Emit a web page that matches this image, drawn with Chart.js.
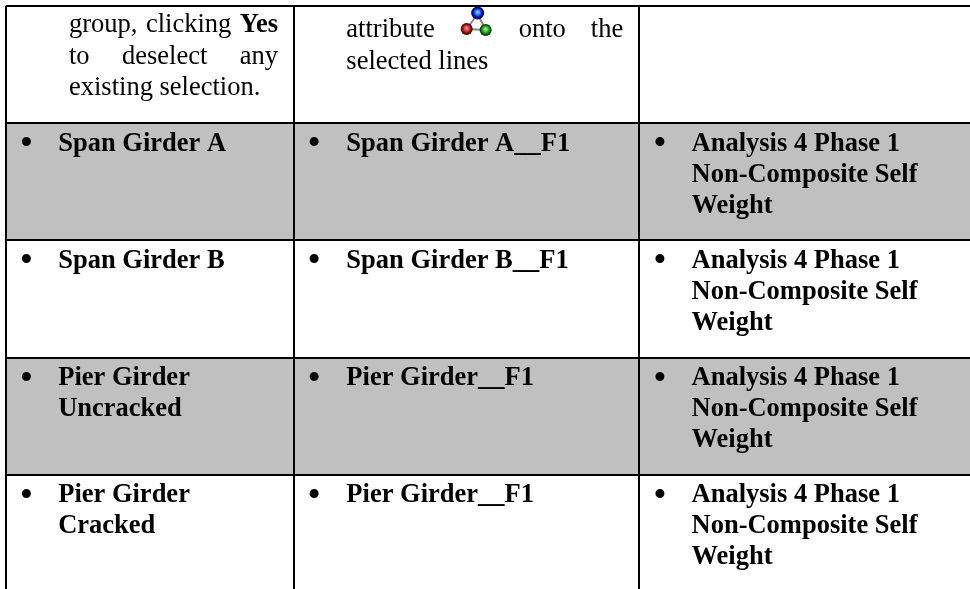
<!DOCTYPE html>
<html>
<head>
<meta charset="utf-8">
<style>
html, body { margin: 0; padding: 0; background: #fff; overflow: hidden; }
canvas { display: block; }
</style>
<script src="https://cdn.jsdelivr.net/npm/chart.js@4/dist/chart.umd.min.js"></script>
</head>
<body>
<canvas id="tableChart" width="970" height="592"></canvas>
<script>
// row labels, one per band (last row runs off the page)
var rows = ['Selection', 'Span Girder A', 'Span Girder B', 'Pier Girder Uncracked', 'Pier Girder Cracked'];
// 964 = shaded right across, 0 = no shading
var shading = [0, 964, 0, 964, 0];
var columnEdges = [0, 288, 633];

var colOne = [
    ['group, clicking *Yes', 'to deselect any', 'existing selection.'],
    ['Span Girder A'],
    ['Span Girder B'],
    ['Pier Girder', 'Uncracked'],
    ['Pier Girder', 'Cracked']
];
var colTwo = [
    ['attribute @ onto the', 'selected lines'],
    ['Span Girder A__F1'],
    ['Span Girder B__F1'],
    ['Pier Girder__F1'],
    ['Pier Girder__F1']
];
var weightLines = ['Analysis 4 Phase 1', 'Non-Composite Self', 'Weight'];
var colThree = [[], weightLines, weightLines, weightLines, weightLines];

var FONT = '"Liberation Serif", "Times New Roman", serif';
var SIZE = 26.5;
var LINE = 31;
var bulletOffset = [21, 20.5, 21];

// run of words spaced out to fill the cell, as in the source document
function justified(ctx, line, left, right, y) {
    var words = line.split(' ');
    var widths = words.map(function(w) {
        if (w === '@') return 34;
        ctx.font = (w[0] === '*' ? 'bold ' : '') + SIZE + 'px ' + FONT;
        return ctx.measureText(w.replace('*', '')).width;
    });
    var total = widths.reduce(function(a, b) { return a + b; }, 0);
    var gap = (right - left - total) / (words.length - 1);
    var x = left;
    words.forEach(function(w, i) {
        if (w === '@') {
            drawIcon(ctx, x + 17, y - 15);
        } else {
            ctx.font = (w[0] === '*' ? 'bold ' : '') + SIZE + 'px ' + FONT;
            ctx.fillText(w.replace('*', ''), x, y);
        }
        x += widths[i] + gap;
    });
}

function ball(ctx, x, y, r, dark, light) {
    var g = ctx.createRadialGradient(x, y - 1, 0.5, x, y, r);
    g.addColorStop(0, light);
    g.addColorStop(0.7, dark);
    g.addColorStop(1, '#111');
    ctx.fillStyle = g;
    ctx.beginPath();
    ctx.arc(x, y, r, 0, Math.PI * 2);
    ctx.fill();
}

function drawIcon(ctx, cx, cy) {
    ctx.strokeStyle = '#888';
    ctx.lineWidth = 2;
    ctx.beginPath();
    ctx.moveTo(cx + 1, cy - 8);
    ctx.lineTo(cx - 10, cy + 7);
    ctx.lineTo(cx + 9, cy + 8);
    ctx.closePath();
    ctx.stroke();
    ball(ctx, cx + 1, cy - 9, 6.5, '#0000d0', '#66e0ff');
    ball(ctx, cx - 10, cy + 7, 6, '#a00000', '#f09090');
    ball(ctx, cx + 9, cy + 8, 6, '#008000', '#90f090');
    ctx.fillStyle = '#000';
}

var cellText = {
    id: 'cellText',
    afterDatasetsDraw: function(chart) {
        var ctx = chart.ctx;
        var xs = chart.scales.x;
        var ys = chart.scales.y;
        ctx.save();
        ctx.fillStyle = '#000';
        ctx.textBaseline = 'alphabetic';
        [colOne, colTwo, colThree].forEach(function(col, c) {
            var edge = xs.getPixelForValue(columnEdges[c]);
            col.forEach(function(lines, r) {
                var top = (ys.getPixelForValue(r) + ys.getPixelForValue(r - 1)) / 2;
                lines.forEach(function(line, i) {
                    if (r === 0) {
                        var left = edge + (c === 0 ? 63.5 : 52.7);
                        var y = 32 + (c === 0 ? 0 : 5) + i * 31.5;
                        if (line.indexOf(' ') > 0 && i < (c === 0 ? 2 : 1)) {
                            justified(ctx, line, left, edge + (c === 0 ? 272.5 : 329.5), y);
                        } else {
                            ctx.font = SIZE + 'px ' + FONT;
                            ctx.fillText(line, left, y);
                        }
                    } else {
                        ctx.font = 'bold ' + SIZE + 'px ' + FONT;
                        ctx.fillText(line, edge + 52.7, top + 27.5 + i * LINE);
                        if (i === 0) {
                            // Liberation's bullet is small, the source used a Symbol one
                            ctx.font = '38px ' + FONT;
                            ctx.textAlign = 'center';
                            ctx.fillText('\u2022', edge + bulletOffset[c], top + 32);
                            ctx.textAlign = 'left';
                        }
                    }
                });
            });
        });
        ctx.restore();
    }
};

new Chart(document.getElementById('tableChart').getContext('2d'), {
    type: 'bar',
    data: {
        labels: rows,
        datasets: [{
            data: shading,
            backgroundColor: '#c0c0c0',
            barPercentage: 1,
            categoryPercentage: 1
        }]
    },
    options: {
        indexAxis: 'y',
        responsive: false,
        animation: false,
        layout: { padding: { left: 5.5, top: 5.8, right: 0, bottom: 0 } },
        plugins: { legend: { display: false }, tooltip: { enabled: false } },
        scales: {
            x: {
                min: 0,
                max: 964,
                afterBuildTicks: function(axis) {
                    axis.ticks = columnEdges.map(function(v) { return { value: v }; });
                },
                ticks: { display: false },
                border: { display: false },
                grid: { color: '#000', lineWidth: 2, drawTicks: false, z: 1 }
            },
            y: {
                ticks: { display: false },
                border: { display: false },
                grid: { color: '#000', lineWidth: 2, drawTicks: false, z: 1 }
            }
        }
    },
    plugins: [cellText]
});
</script>
</body>
</html>
